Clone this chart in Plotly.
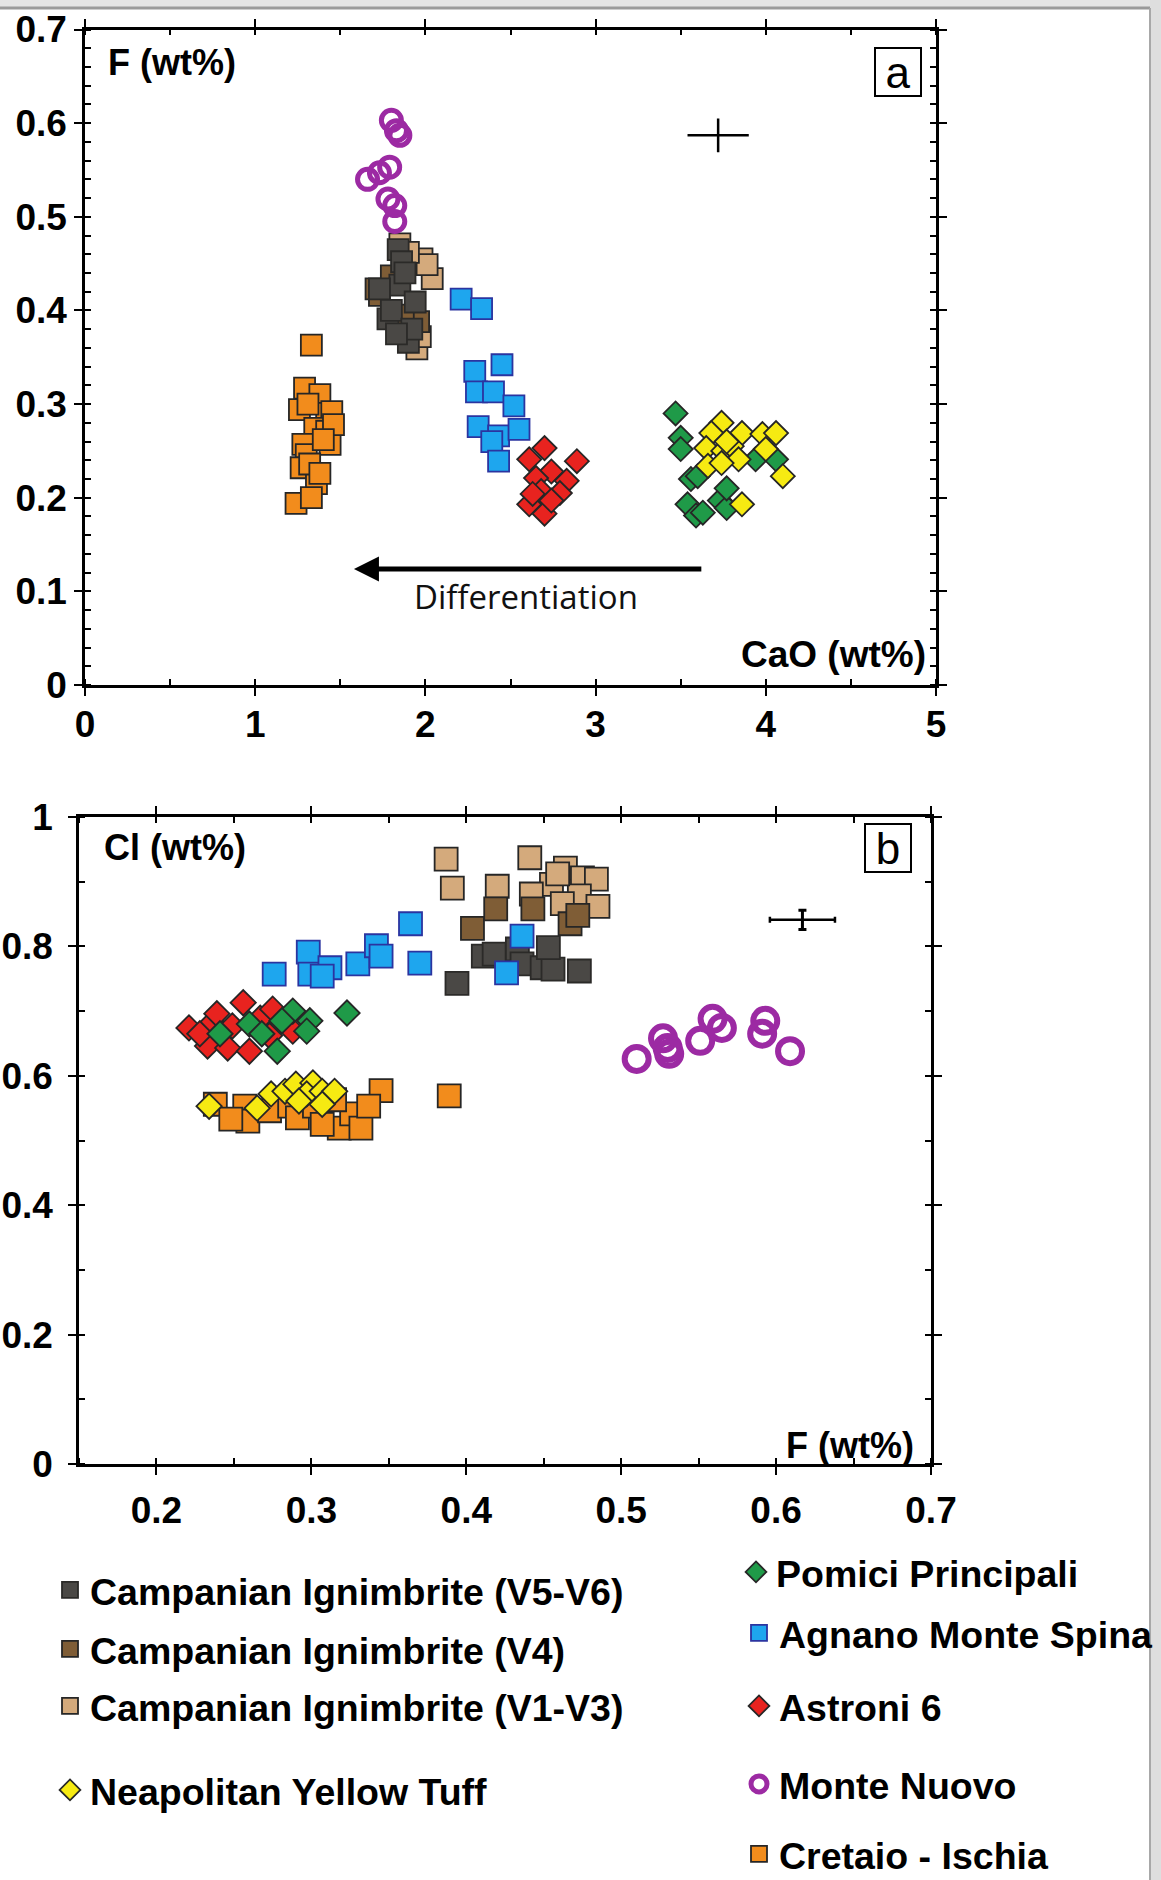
import plotly.graph_objects as go

W, H = 1161, 1880

# ---------------- Panel a : CaO (wt%) vs F (wt%) ----------------
a_ci_cao = [1.33, 1.29, 1.38, 1.26, 1.42, 1.45, 1.35, 1.42, 1.28, 1.30, 1.44, 1.27, 1.36, 1.24, 1.33, 1.46, 1.31, 1.40, 1.32, 1.38]
a_ci_f   = [0.363, 0.317, 0.310, 0.294, 0.290, 0.292, 0.274, 0.271, 0.257, 0.246, 0.257, 0.232, 0.215, 0.194, 0.200, 0.278, 0.300, 0.262, 0.236, 0.226]

a_v13_cao = [1.85, 1.98, 2.04, 1.95, 2.01, 1.97, 1.90]
a_v13_f   = [0.471, 0.455, 0.434, 0.359, 0.449, 0.372, 0.462]
a_v4_cao  = [1.71, 1.73, 1.96, 1.87, 1.80]
a_v4_f    = [0.423, 0.416, 0.388, 0.395, 0.437]
a_v56_cao = [1.84, 1.86, 1.85, 1.94, 1.78, 1.90, 1.73, 1.88, 1.80, 1.92, 1.83]
a_v56_f   = [0.465, 0.452, 0.427, 0.409, 0.391, 0.366, 0.423, 0.440, 0.400, 0.380, 0.375]

a_ams_cao = [2.21, 2.33, 2.29, 2.45, 2.30, 2.40, 2.52, 2.31, 2.43, 2.55, 2.39, 2.43]
a_ams_f   = [0.412, 0.402, 0.335, 0.342, 0.313, 0.313, 0.298, 0.276, 0.266, 0.273, 0.260, 0.239]

a_a6_cao = [2.70, 2.61, 2.89, 2.74, 2.65, 2.83, 2.68, 2.79, 2.61, 2.70, 2.74, 2.63]
a_a6_f   = [0.253, 0.241, 0.239, 0.228, 0.221, 0.218, 0.207, 0.205, 0.193, 0.183, 0.197, 0.204]

a_pp_cao = [3.47, 3.50, 3.50, 3.56, 3.60, 3.54, 3.59, 3.73, 3.77, 3.94, 4.06, 3.63, 3.77]
a_pp_f   = [0.290, 0.264, 0.252, 0.220, 0.223, 0.193, 0.181, 0.197, 0.189, 0.241, 0.241, 0.184, 0.210]

a_nyt_cao = [3.74, 3.68, 3.86, 3.98, 4.06, 3.65, 3.75, 3.80, 3.84, 3.66, 3.74, 4.00, 4.10, 3.86, 3.77]
a_nyt_f   = [0.280, 0.269, 0.269, 0.268, 0.269, 0.253, 0.250, 0.255, 0.241, 0.234, 0.237, 0.252, 0.223, 0.193, 0.260]

a_mn_cao = [1.80, 1.83, 1.85, 1.79, 1.66, 1.73, 1.78, 1.82, 1.82]
a_mn_f   = [0.603, 0.592, 0.587, 0.553, 0.540, 0.547, 0.519, 0.512, 0.495]

a_err_x, a_err_y = [3.72], [0.587]
a_err_dx, a_err_dy = [0.18], [0.018]

arrow_tail = (3.63, 0.124)
arrow_head = (1.58, 0.124)
diff_label_pos = (2.59, 0.094)

# ---------------- Panel b : F (wt%) vs Cl (wt%) ----------------
b_ci_f  = [0.238, 0.257, 0.259, 0.273, 0.286, 0.291, 0.302, 0.318, 0.326, 0.332, 0.345, 0.337, 0.389, 0.248, 0.307, 0.315]
b_ci_cl = [0.556, 0.553, 0.530, 0.546, 0.553, 0.535, 0.553, 0.519, 0.541, 0.519, 0.577, 0.553, 0.569, 0.533, 0.525, 0.563]

b_v13_f  = [0.387, 0.391, 0.420, 0.441, 0.464, 0.455, 0.475, 0.484, 0.473, 0.485, 0.462, 0.442, 0.459]
b_v13_cl = [0.935, 0.890, 0.893, 0.937, 0.921, 0.896, 0.906, 0.904, 0.878, 0.862, 0.866, 0.881, 0.912]
b_v4_f   = [0.404, 0.419, 0.443, 0.467, 0.472]
b_v4_cl  = [0.828, 0.858, 0.858, 0.835, 0.848]
b_v56_f  = [0.394, 0.411, 0.418, 0.433, 0.436, 0.449, 0.456, 0.473, 0.453]
b_v56_cl = [0.743, 0.785, 0.788, 0.796, 0.773, 0.767, 0.765, 0.762, 0.798]

b_ams_f  = [0.276, 0.298, 0.299, 0.312, 0.330, 0.342, 0.345, 0.364, 0.370, 0.436, 0.426, 0.307]
b_ams_cl = [0.757, 0.791, 0.757, 0.767, 0.773, 0.801, 0.785, 0.835, 0.774, 0.816, 0.759, 0.754]

b_a6_f  = [0.221, 0.236, 0.239, 0.249, 0.256, 0.267, 0.275, 0.273, 0.233, 0.246, 0.260, 0.288, 0.228]
b_a6_cl = [0.674, 0.682, 0.696, 0.677, 0.713, 0.689, 0.703, 0.662, 0.646, 0.643, 0.638, 0.669, 0.665]

b_pp_f  = [0.288, 0.299, 0.297, 0.281, 0.260, 0.268, 0.278, 0.241, 0.323]
b_pp_cl = [0.700, 0.685, 0.669, 0.685, 0.680, 0.665, 0.638, 0.665, 0.697]

b_nyt_f  = [0.234, 0.265, 0.274, 0.283, 0.290, 0.301, 0.297, 0.307, 0.315, 0.307, 0.292]
b_nyt_cl = [0.553, 0.550, 0.572, 0.576, 0.587, 0.589, 0.572, 0.576, 0.576, 0.556, 0.561]

b_mn_f  = [0.510, 0.527, 0.530, 0.531, 0.551, 0.559, 0.565, 0.593, 0.591, 0.609]
b_mn_cl = [0.626, 0.658, 0.643, 0.634, 0.654, 0.688, 0.674, 0.685, 0.665, 0.638]

b_err_x, b_err_y = [0.617], [0.841]
b_err_dx, b_err_dy = [0.021], [0.015]

# ---------------- styles ----------------
EDGE = "#262626"
series = [
    # name, a-x, a-y, b-x, b-y, symbol, fill, edge, legend
    ("Cretaio - Ischia", a_ci_cao, a_ci_f, b_ci_f, b_ci_cl, "square", "#f28c1c", EDGE, "legend9"),
    ("Campanian Ignimbrite (V1-V3)", a_v13_cao, a_v13_f, b_v13_f, b_v13_cl, "square", "#d4aa7c", EDGE, "legend3"),
    ("Campanian Ignimbrite (V4)", a_v4_cao, a_v4_f, b_v4_f, b_v4_cl, "square", "#7f5d36", EDGE, "legend2"),
    ("Campanian Ignimbrite (V5-V6)", a_v56_cao, a_v56_f, b_v56_f, b_v56_cl, "square", "#4a4845", "#2b2a28", "legend"),
    ("Agnano Monte Spina", a_ams_cao, a_ams_f, b_ams_f, b_ams_cl, "square", "#1ea6ee", "#2b34a0", "legend6"),
    ("Astroni 6", a_a6_cao, a_a6_f, b_a6_f, b_a6_cl, "diamond", "#e8231f", EDGE, "legend7"),
    ("Pomici Principali", a_pp_cao, a_pp_f, b_pp_f, b_pp_cl, "diamond", "#1f9a48", EDGE, "legend5"),
    ("Neapolitan Yellow Tuff", a_nyt_cao, a_nyt_f, b_nyt_f, b_nyt_cl, "diamond", "#f6ea12", EDGE, "legend4"),
    ("Monte Nuovo", a_mn_cao, a_mn_f, b_mn_f, b_mn_cl, "circle-open", "#9c2aa3", "#9c2aa3", "legend8"),
]

fig = go.Figure()
for name, ax_, ay_, bx_, by_, sym, fill, edge, lg in series:
    if sym == "circle-open":
        ma = dict(symbol=sym, size=20, color=fill, line=dict(color=fill, width=5))
        mb = dict(symbol=sym, size=24, color=fill, line=dict(color=fill, width=6))
    elif sym == "diamond":
        ma = dict(symbol=sym, size=18.5, color=fill, line=dict(color=edge, width=1.8))
        mb = dict(symbol=sym, size=19.5, color=fill, line=dict(color=edge, width=1.8))
    else:
        ma = dict(symbol=sym, size=21, color=fill, line=dict(color=edge, width=1.8))
        mb = dict(symbol=sym, size=23, color=fill, line=dict(color=edge, width=1.8))
    fig.add_trace(go.Scatter(x=ax_, y=ay_, mode="markers", marker=ma, name=name,
                             legend=lg, showlegend=True, xaxis="x", yaxis="y"))
    fig.add_trace(go.Scatter(x=bx_, y=by_, mode="markers", marker=mb, name=name,
                             showlegend=False, xaxis="x2", yaxis="y2"))

# analytical error crosses
fig.add_trace(go.Scatter(x=a_err_x, y=a_err_y, mode="markers", showlegend=False,
                         marker=dict(size=1, color="rgba(0,0,0,0)"),
                         error_x=dict(type="data", array=a_err_dx, color="black", thickness=2.5, width=0),
                         error_y=dict(type="data", array=a_err_dy, color="black", thickness=2.5, width=0),
                         xaxis="x", yaxis="y"))
fig.add_trace(go.Scatter(x=b_err_x, y=b_err_y, mode="markers", showlegend=False,
                         marker=dict(size=1, color="rgba(0,0,0,0)"),
                         error_x=dict(type="data", array=b_err_dx, color="black", thickness=2.5, width=3),
                         error_y=dict(type="data", array=b_err_dy, color="black", thickness=3, width=4),
                         xaxis="x2", yaxis="y2"))

TICKFONT = dict(family="Liberation Sans, Arial, sans-serif", size=37, color="black", weight="bold")
LINEW = 2.5


def axis_common(**kw):
    d = dict(showline=True, linecolor="black", linewidth=LINEW, mirror="allticks",
             showgrid=False, zeroline=False, ticks="outside", ticklen=8, tickwidth=2.2,
             tickcolor="black", tickfont=TICKFONT, automargin=False)
    d.update(kw)
    return d


def px(v, total):
    return v / total


fig.update_layout(
    width=W, height=H,
    margin=dict(l=0, r=0, t=0, b=0, pad=0, autoexpand=False),
    paper_bgcolor="white", plot_bgcolor="white",
    xaxis=axis_common(domain=[px(85, W), px(936, W)], range=[0, 5], dtick=1, anchor="y",
                      ticklabelstandoff=-3,
                      minor=dict(dtick=0.5, ticks="inside", ticklen=6, tickwidth=2, tickcolor="black")),
    yaxis=axis_common(domain=[1 - px(685, H), 1 - px(29.5, H)], range=[0, 0.7], dtick=0.1, anchor="x",
                      ticklabelstandoff=0,
                      minor=dict(dtick=0.02, ticks="inside", ticklen=6, tickwidth=2, tickcolor="black")),
    xaxis2=axis_common(domain=[px(79, W), px(931, W)], range=[0.15, 0.7], dtick=0.1, tick0=0, anchor="y2",
                       ticklabelstandoff=4,
                       minor=dict(dtick=0.05, ticks="inside", ticklen=6, tickwidth=2, tickcolor="black")),
    yaxis2=axis_common(domain=[1 - px(1464, H), 1 - px(817, H)], range=[0, 1], dtick=0.2, anchor="x2",
                       ticklabelstandoff=8,
                       minor=dict(dtick=0.1, ticks="inside", ticklen=6, tickwidth=2, tickcolor="black")),
)

# legends: one per entry, placed like the original two-column key
LEGFONT = dict(family="Liberation Sans, Arial, sans-serif", size=37.5, color="black", weight="bold")
leg_pos = {
    "legend": (50, 1590), "legend2": (50, 1649), "legend3": (50, 1706), "legend4": (50, 1790),
    "legend5": (736, 1572), "legend6": (739, 1633), "legend7": (739, 1706), "legend8": (739, 1784),
    "legend9": (739, 1854),
}
for key, (lx, ly) in leg_pos.items():
    fig.update_layout({key: dict(x=px(lx, W), y=1 - px(ly, H), xanchor="left", yanchor="middle",
                                 xref="paper", yref="paper", font=LEGFONT, bgcolor="rgba(0,0,0,0)",
                                 borderwidth=0, itemsizing="trace", tracegroupgap=0)})

ANN_FONT = dict(family="Liberation Sans, Arial, sans-serif", size=36, color="black", weight="bold")
annotations = [
    dict(text="F (wt%)", x=px(106, W), y=1 - px(62, H), xref="paper", yref="paper",
         xanchor="left", yanchor="middle", showarrow=False, font=ANN_FONT),
    dict(text="CaO (wt%)", x=px(928, W), y=1 - px(654, H), xref="paper", yref="paper",
         xanchor="right", yanchor="middle", showarrow=False, font=dict(ANN_FONT, size=37)),
    dict(text="Cl (wt%)", x=px(102, W), y=1 - px(847, H), xref="paper", yref="paper",
         xanchor="left", yanchor="middle", showarrow=False, font=ANN_FONT),
    dict(text="F (wt%)", x=px(916, W), y=1 - px(1445, H), xref="paper", yref="paper",
         xanchor="right", yanchor="middle", showarrow=False, font=ANN_FONT),
    dict(text="a", x=px(898, W), y=1 - px(72, H), xref="paper", yref="paper",
         xanchor="center", yanchor="middle", showarrow=False, width=42, height=44,
         font=dict(family="Liberation Sans, Arial, sans-serif", size=44, color="black"),
         bordercolor="black", borderwidth=2, borderpad=1, bgcolor="white"),
    dict(text="b", x=px(888, W), y=1 - px(848, H), xref="paper", yref="paper",
         xanchor="center", yanchor="middle", showarrow=False, width=42, height=44,
         font=dict(family="Liberation Sans, Arial, sans-serif", size=44, color="black"),
         bordercolor="black", borderwidth=2, borderpad=1, bgcolor="white"),
    dict(x=arrow_head[0], y=arrow_head[1], ax=arrow_tail[0], ay=arrow_tail[1],
         xref="x", yref="y", axref="x", ayref="y", text="", showarrow=True,
         arrowhead=2, arrowsize=1.0, arrowwidth=5, arrowcolor="black"),
    dict(text="Differentiation", x=diff_label_pos[0], y=diff_label_pos[1], xref="x", yref="y",
         showarrow=False, font=dict(family="Open Sans, Noto Sans, sans-serif", size=33, color="#111")),
]
fig.update_layout(annotations=annotations)

# screenshot frame (grey border at top and right)
fig.update_layout(shapes=[
    dict(type="rect", xref="paper", yref="paper", x0=0, x1=1, y0=1 - px(7, H), y1=1,
         fillcolor="#e4e4e4", line=dict(width=0), layer="below"),
    dict(type="line", xref="paper", yref="paper", x0=0, x1=px(1150, W), y0=1 - px(8, H), y1=1 - px(8, H),
         line=dict(color="#9a9a9a", width=3)),
    dict(type="rect", xref="paper", yref="paper", x0=px(1150, W), x1=1, y0=0, y1=1,
         fillcolor="#dedede", line=dict(width=0), layer="below"),
    dict(type="line", xref="paper", yref="paper", x0=px(1150, W), x1=px(1150, W), y0=0, y1=1 - px(8, H),
         line=dict(color="#a8a8a8", width=2)),
])

fig.write_html("out.html")
